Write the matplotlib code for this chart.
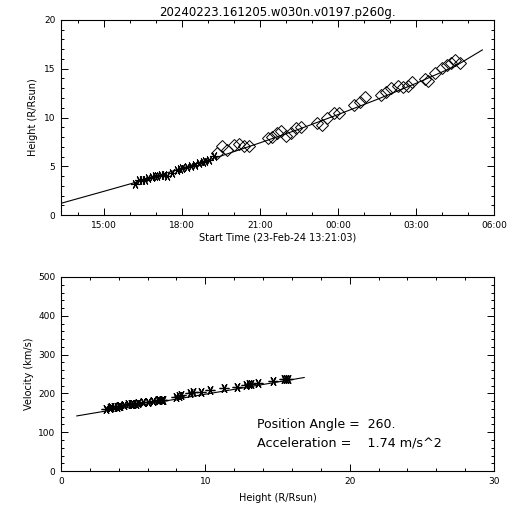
import matplotlib
matplotlib.use("Agg")
import matplotlib.pyplot as plt
from matplotlib.ticker import MultipleLocator, FuncFormatter

# %% Data (hours of 23-Feb, >24 = next day)
c2_time = [16.20, 16.35, 16.45, 16.60, 16.70, 16.84, 16.95, 17.05, 17.20, 17.30,
           17.42, 17.62, 17.80, 17.92, 18.02, 18.18, 18.35, 18.50, 18.66, 18.80,
           18.90, 19.05, 19.25]
c2_height = [3.21, 3.55, 3.62, 3.60, 3.79, 3.85, 4.03, 4.00, 4.13, 4.06,
             4.05, 4.30, 4.64, 4.75, 4.81, 4.88, 5.05, 5.15, 5.32, 5.40,
             5.49, 5.67, 6.01]

c3_time = [19.35, 19.55, 19.74, 20.00, 20.19, 20.39, 20.58, 21.30, 21.47, 21.65,
           21.82, 22.01, 22.21, 22.40, 22.57, 23.18, 23.38, 23.57, 23.83, 24.03,
           24.61, 24.84, 25.03, 25.65, 25.84, 26.04, 26.30, 26.49, 26.69, 26.84,
           27.34, 27.47, 27.73, 27.99, 28.18, 28.35, 28.51, 28.70]
c3_height = [6.35, 7.03, 6.69, 7.20, 7.30, 7.03, 7.03, 7.88, 8.05, 8.46,
             8.57, 8.12, 8.40, 8.91, 9.01, 9.42, 9.25, 9.93, 10.51, 10.51,
             11.30, 11.54, 12.08, 12.32, 12.66, 13.00, 13.24, 13.17, 13.24, 13.69,
             13.96, 13.79, 14.61, 15.05, 15.39, 15.63, 15.90, 15.56]

fit_time = [13.35, 15.0, 16.5, 18.0, 19.5, 21.0, 22.5, 24.0, 25.5, 27.0, 28.5, 29.55]
fit_height = [1.20, 2.43, 3.56, 4.80, 6.05, 7.40, 8.80, 10.30, 11.85, 13.50, 15.25, 16.93]

vel_height = [3.13, 3.40, 3.50, 3.70, 3.86, 4.00, 4.10, 4.40, 4.67, 4.85, 5.00,
              5.20, 5.36, 5.70, 6.05, 6.39, 6.70, 6.80, 7.00, 7.08, 8.00, 8.15,
              8.34, 8.92, 9.15, 9.72, 10.30, 11.26, 12.18, 12.83, 13.00, 13.17,
              13.63, 14.67, 15.47, 15.60, 15.70]
vel_speed = [159, 162, 164, 165, 166, 167, 168, 170, 172, 172, 172,
             174, 176, 177, 178, 180, 183, 184, 183, 183, 191, 193,
             196, 200, 203, 204, 209, 213, 217, 222, 223, 224,
             228, 233, 236, 236, 236]

vfit_height = [1.10, 16.85]
vfit_speed = [142, 241]

title = "20240223.161205.w030n.v0197.p260g."
start_label = "Start Time (23-Feb-24 13:21:03)"
t_start = 13 + 21 / 60 + 3 / 3600

# %% Plot
plt.rcParams["font.family"] = "DejaVu Sans"
fig = plt.figure(figsize=(5.12, 5.12), dpi=100)
ax1 = fig.add_axes([0.119, 0.580, 0.846, 0.381])
ax2 = fig.add_axes([0.119, 0.080, 0.846, 0.379])

star = (6, 2, 90)


def idl_style(ax):
    ax.tick_params(which="both", direction="in", top=True, right=True,
                   labelsize=6.5, width=0.7, pad=4)
    ax.tick_params(which="major", length=5)
    ax.tick_params(which="minor", length=2.5)
    for s in ax.spines.values():
        s.set_linewidth(0.8)


ax1.plot(fit_time, fit_height, color="black", lw=0.8)
ax1.plot(c2_time, c2_height, ls="none", marker=star, ms=6.5, mew=0.8, color="black")
ax1.plot(c3_time, c3_height, ls="none", marker="D", ms=5.8, mew=0.7,
         mfc="none", mec="black")
ax1.set_xlim(t_start, 30)
ax1.set_ylim(0, 20)
ax1.xaxis.set_major_locator(MultipleLocator(3))
ax1.xaxis.set_minor_locator(MultipleLocator(1))
ax1.yaxis.set_major_locator(MultipleLocator(5))
ax1.yaxis.set_minor_locator(MultipleLocator(1))
ax1.xaxis.set_major_formatter(FuncFormatter(lambda v, p: f"{int(round(v)) % 24:02d}:00"))
ax1.set_xlabel(start_label, fontsize=7, labelpad=2)
ax1.set_ylabel("Height (R/Rsun)", fontsize=7, labelpad=4)
ax1.set_title(title, fontsize=8.5, pad=3)
idl_style(ax1)

ax2.plot(vfit_height, vfit_speed, color="black", lw=0.8)
ax2.plot(vel_height, vel_speed, ls="none", marker=star, ms=7, mew=0.9, color="black")
ax2.set_xlim(0, 30)
ax2.set_ylim(0, 500)
ax2.xaxis.set_major_locator(MultipleLocator(10))
ax2.xaxis.set_minor_locator(MultipleLocator(2))
ax2.yaxis.set_major_locator(MultipleLocator(100))
ax2.yaxis.set_minor_locator(MultipleLocator(20))
ax2.set_xlabel("Height (R/Rsun)", fontsize=7, labelpad=5)
ax2.set_ylabel("Velocity (km/s)", fontsize=7, labelpad=3)
ax2.text(13.6, 110, "Position Angle =  260.", fontsize=9)
ax2.text(13.6, 62, "Acceleration =    1.74 m/s^2", fontsize=9.2)
idl_style(ax2)

fig.savefig("out.png", dpi=100)
